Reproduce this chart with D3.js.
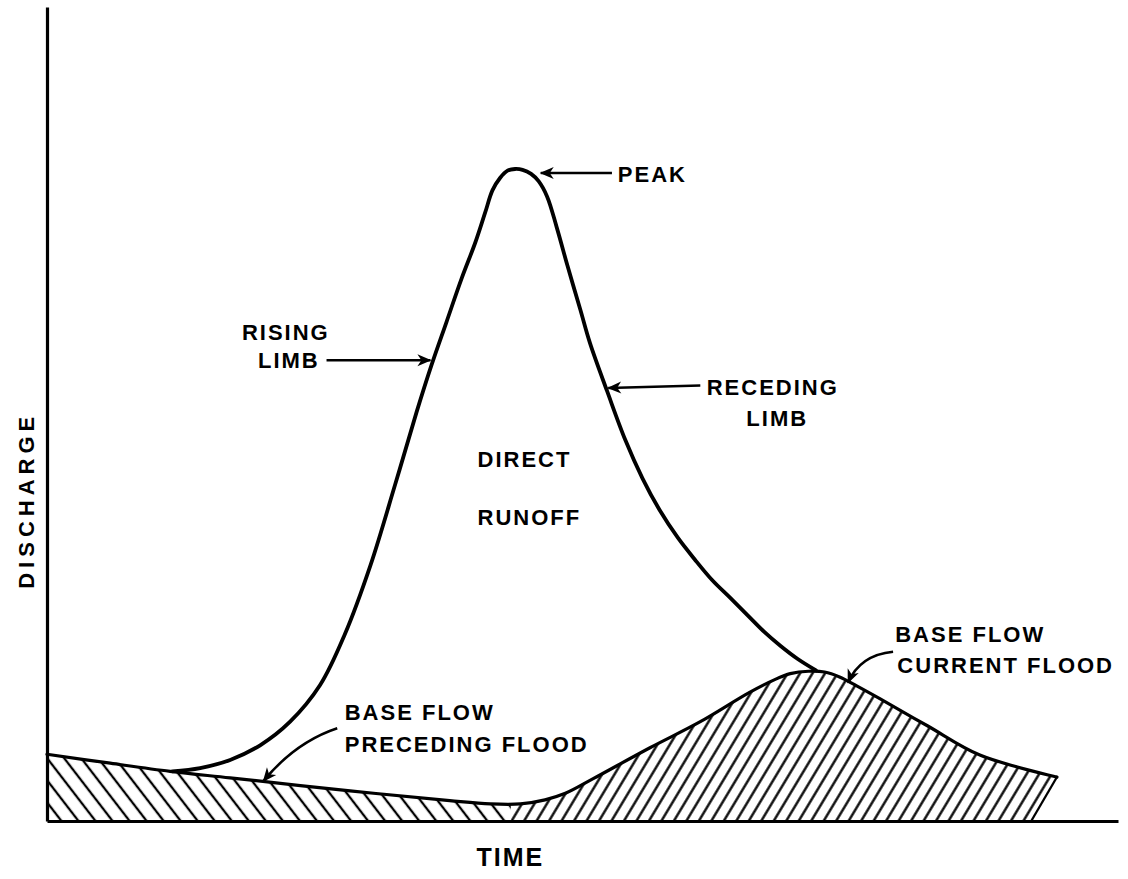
<!DOCTYPE html>
<html>
<head>
<meta charset="utf-8">
<script src="https://cdn.jsdelivr.net/npm/d3@7"></script>
<style>
body { margin: 0; background: #fff; }
svg text { font-family: "Liberation Sans", Arial, sans-serif; font-weight: bold; font-size: 22px; letter-spacing: 2px; fill: #000; }
</style>
</head>
<body>
<svg id="svg1" width="1128" height="879"></svg>
<script>
// total flood hydrograph (time, discharge in arbitrary units 0-100)
var hydroTime = [11.7, 14.3, 17.1, 19.9, 22.7, 25.5, 27.8, 30.2, 32.5, 34.5, 35.9, 37.3, 38.7, 40.0, 40.9, 41.6,
                 42.3, 43.0, 43.7, 44.4, 45.2, 45.9, 46.7, 47.6, 48.6, 49.8, 50.7, 52.3, 54.0, 55.6,
                 57.2, 58.9, 60.5, 62.1, 63.8, 65.4, 67.0, 68.5, 70.1, 71.8];
var hydroFlow = [6.1, 6.5, 7.5, 9.3, 12.2, 16.7, 22.9, 31.4, 41.3, 50.2, 56.0, 61.3, 66.6, 71.1, 74.7, 77.5,
                 79.0, 79.9, 80.1, 80.0, 79.5, 78.6, 76.7, 72.9, 68.2, 62.8, 58.7, 52.8, 46.8, 42.1,
                 38.2, 34.8, 32.1, 29.6, 27.4, 25.3, 23.2, 21.5, 19.9, 18.5];

// base flow: preceding flood recession, then current flood
var baseTime = [0, 5.9, 11.5, 17.1, 28.3, 37.6, 41.4, 44.2,
                46.5, 48.4, 51.0, 56.3, 61.0, 65.6, 68.0, 69.4, 71.1, 72.6, 74.0, 75.6, 77.8, 82.2, 87.1, 94.3];
var baseFlow = [8.2, 7.1, 6.1, 5.3, 3.7, 2.5, 2.1, 2.1,
                2.6, 3.4, 5.2, 9.0, 12.2, 15.8, 17.4, 18.1, 18.4, 18.3, 17.7, 16.6, 15.0, 11.7, 8.1, 5.4];

var splitTime = 43.3;   // end of preceding-flood base flow
var footTime = 91.9;    // where the last hatch stroke meets the time axis

var svg = d3.select("svg#svg1");
var x = d3.scaleLinear().domain([0, 100]).range([47, 1118]);
var y = d3.scaleLinear().domain([0, 100]).range([821, 7]);

var hydro = hydroTime.map(function(t, i) { return [t, hydroFlow[i]]; });
var base = baseTime.map(function(t, i) { return [t, baseFlow[i]]; });
var last = base[base.length - 1];

var defs = svg.append("defs");

var hatch = function(id, angle, gap) {
  var p = defs.append("pattern")
    .attr("id", id)
    .attr("patternUnits", "userSpaceOnUse")
    .attr("width", gap)
    .attr("height", gap)
    .attr("patternTransform", "rotate(" + angle + ")");
  p.append("line")
    .attr("x1", gap / 2).attr("y1", -1)
    .attr("x2", gap / 2).attr("y2", gap + 1)
    .attr("stroke", "#000")
    .attr("stroke-width", 2.3);
};
hatch("hatchLeft", -37.6, 13.5);
hatch("hatchRight", 31, 10.7);

defs.append("clipPath").attr("id", "clipLeft")
  .append("rect")
  .attr("x", x(0)).attr("y", 0)
  .attr("width", x(splitTime) - x(0)).attr("height", y(0));

defs.append("clipPath").attr("id", "clipRight")
  .append("path")
  .attr("d", d3.line()([
    [x(splitTime), 0], [x(last[0]), 0], [x(last[0]), y(last[1])],
    [x(footTime), y(0)], [x(splitTime), y(0)]
  ]) + "Z");

defs.append("marker")
  .attr("id", "head")
  .attr("viewBox", "-15 -7 17 14")
  .attr("refX", 0).attr("refY", 0)
  .attr("markerWidth", 17).attr("markerHeight", 14)
  .attr("markerUnits", "userSpaceOnUse")
  .attr("orient", "auto")
  .append("path")
  .attr("d", "M1,0 L-13,-6 L-9,0 L-13,6 Z")
  .attr("fill", "#000");

var curve = d3.curveCatmullRom.alpha(0.5);

var area = d3.area()
  .x(function(d) { return x(d[0]); })
  .y0(y(0))
  .y1(function(d) { return y(d[1]); })
  .curve(curve);

var line = d3.line()
  .x(function(d) { return x(d[0]); })
  .y(function(d) { return y(d[1]); })
  .curve(curve);

svg.append("path").attr("d", area(base))
  .attr("fill", "url(#hatchLeft)").attr("clip-path", "url(#clipLeft)");
svg.append("path").attr("d", area(base))
  .attr("fill", "url(#hatchRight)").attr("clip-path", "url(#clipRight)");

// closing hatch stroke at the right end
svg.append("line")
  .attr("x1", x(last[0])).attr("y1", y(last[1]))
  .attr("x2", x(footTime)).attr("y2", y(0))
  .attr("stroke", "#000").attr("stroke-width", 2.3);

svg.append("path").attr("d", line(base))
  .attr("fill", "none").attr("stroke", "#000").attr("stroke-width", 3.2)
  .attr("stroke-linecap", "round");

svg.append("path").attr("d", line(hydro))
  .attr("fill", "none").attr("stroke", "#000").attr("stroke-width", 3.8)
  .attr("stroke-linecap", "round").attr("stroke-linejoin", "round");

// axes
svg.append("g")
  .attr("transform", "translate(0," + y(0) + ")")
  .call(d3.axisBottom(x).tickValues([]).tickSizeOuter(0));
svg.append("g")
  .attr("transform", "translate(" + x(0) + ",0)")
  .call(d3.axisLeft(y).tickValues([]).tickSizeOuter(0));
svg.selectAll(".domain").attr("stroke", "#000").attr("stroke-width", 3.2);

svg.append("text")
  .attr("x", x(40.1)).attr("y", y(0) + 45)
  .style("font-size", "25px")
  .text("TIME");

svg.append("text")
  .attr("transform", "translate(34," + y(39.4) + ") rotate(-90)")
  .attr("text-anchor", "middle")
  .style("letter-spacing", "5px")
  .text("DISCHARGE");

// annotations
var notes = [
  { t: 53.3, q: 78.5, text: "PEAK" },
  { t: 18.2, q: 59.1, text: "RISING" },
  { t: 19.7, q: 55.65, text: "LIMB" },
  { t: 61.6, q: 52.3, text: "RECEDING" },
  { t: 65.3, q: 48.5, text: "LIMB" },
  { t: 40.2, q: 43.5, text: "DIRECT" },
  { t: 40.2, q: 36.4, text: "RUNOFF" },
  { t: 27.8, q: 12.4, text: "BASE FLOW" },
  { t: 27.8, q: 8.5, text: "PRECEDING FLOOD" },
  { t: 79.2, q: 22.0, text: "BASE FLOW" },
  { t: 79.4, q: 18.2, text: "CURRENT FLOOD" }
];

svg.selectAll("text.note")
  .data(notes)
  .enter()
  .append("text")
  .attr("class", "note")
  .attr("x", function(d) { return x(d.t); })
  .attr("y", function(d) { return y(d.q); })
  .text(function(d) { return d.text; });

var arrows = [
  [[52.75, 79.6], [46.1, 79.6]],
  [[26.1, 56.6], [35.8, 56.6]],
  [[61.0, 53.5], [52.4, 53.2]],
  [[27.1, 11.4], [23.2, 9.7], [20.2, 4.9]],
  [[79.0, 20.8], [75.9, 20.4], [74.8, 17.0]]
];

var arrowPath = function(p) {
  var s = "M" + x(p[0][0]) + "," + y(p[0][1]);
  if (p.length == 3) {
    return s + "Q" + x(p[1][0]) + "," + y(p[1][1]) + " " + x(p[2][0]) + "," + y(p[2][1]);
  }
  return s + "L" + x(p[1][0]) + "," + y(p[1][1]);
};

svg.selectAll("path.arrow")
  .data(arrows)
  .enter()
  .append("path")
  .attr("class", "arrow")
  .attr("d", arrowPath)
  .attr("fill", "none")
  .attr("stroke", "#000")
  .attr("stroke-width", 2.5)
  .attr("marker-end", "url(#head)");
</script>
</body>
</html>
